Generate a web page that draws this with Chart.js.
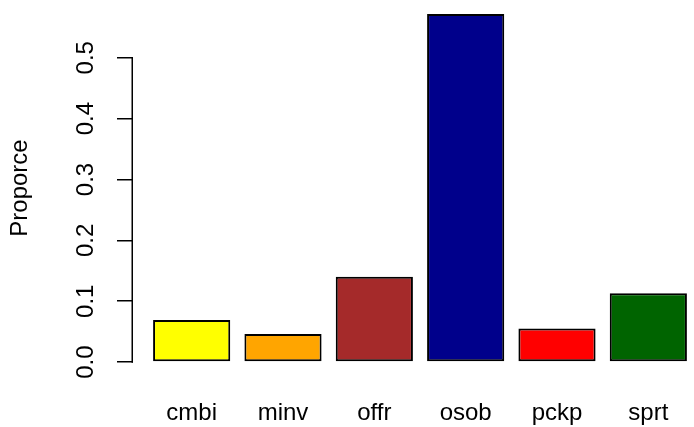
<!DOCTYPE html>
<html><head><meta charset="utf-8">
<script src="https://cdn.jsdelivr.net/npm/chart.js@4"></script>
<style>html,body{margin:0;padding:0;background:#fff}#wrap{width:694px;height:427px}</style>
</head><body><div id="wrap"><canvas id="c" width="694" height="427"></canvas></div>
<script>
const categories = ['cmbi', 'minv', 'offr', 'osob', 'pckp', 'sprt'];
const proportions = [0.069, 0.046, 0.140, 0.572, 0.055, 0.113];
const barColors = ['#FFFF00', '#FFA500', '#A52A2A', '#00008B', '#FF0000', '#006400'];
const yTickValues = [0, 0.1, 0.2, 0.3, 0.4, 0.5];
const yTickLabels = ['0.0', '0.1', '0.2', '0.3', '0.4', '0.5'];
const yTitle = 'Proporce';

const FONT = 'Liberation Sans, Arial, Helvetica, sans-serif';
const dataMax = Math.max(...proportions);
const yMin = -0.04 * dataMax;
const yMax = 1.04 * dataMax;

const axisLinePlugin = {
  id: 'axisLine',
  afterDraw(chart) {
    const s = chart.scales.y;
    const ctx = chart.ctx;
    const x = s.right - 0.75;
    ctx.save();
    ctx.strokeStyle = '#000';
    ctx.lineWidth = 1.5;
    ctx.beginPath();
    ctx.moveTo(x, s.getPixelForValue(yTickValues[0]) + 0.75);
    ctx.lineTo(x, s.getPixelForValue(yTickValues[yTickValues.length - 1]) - 0.75);
    ctx.stroke();
    ctx.restore();
  }
};

new Chart(document.getElementById('c'), {
  type: 'bar',
  data: {
    labels: categories,
    datasets: [{
      data: proportions,
      backgroundColor: barColors,
      borderColor: '#000',
      borderWidth: 2,
      borderSkipped: false,
      barPercentage: 0.845,
      categoryPercentage: 1
    }]
  },
  options: {
    responsive: false,
    animation: false,
    devicePixelRatio: 1,
    layout: { padding: { left: 0, right: -5, top: 0, bottom: 0 } },
    plugins: { legend: { display: false }, tooltip: { enabled: false } },
    scales: {
      x: {
        type: 'category',
        grid: { display: false, drawTicks: false },
        border: { display: false },
        ticks: { color: '#000', font: { family: FONT, size: 24 }, padding: 23, maxRotation: 0, autoSkip: false },
        afterFit(s) { s.height = 51; s.paddingLeft = 0; s.paddingRight = 0; }
      },
      y: {
        type: 'linear',
        position: 'left',
        weight: 1,
        min: yMin,
        max: yMax,
        afterBuildTicks(s) { s.ticks = yTickValues.map(v => ({ value: v })); },
        grid: { display: true, drawOnChartArea: false, drawTicks: true, tickLength: 16, color: '#000', lineWidth: 1.5 },
        border: { display: false },
        ticks: {
          color: '#000',
          font: { family: FONT, size: 24 },
          minRotation: 90, maxRotation: 90,
          crossAlign: 'center',
          padding: 13.6,
          callback: (v, i) => yTickLabels[i]
        },
        title: { display: true, text: yTitle, color: '#000', font: { family: FONT, size: 24 }, padding: { top: 6, bottom: 0 } },
        afterFit(s) { s.width = 133; s.paddingTop = 0; s.paddingBottom = 0; }
      },
      spacer: {
        type: 'linear',
        position: 'left',
        weight: 0,
        display: true,
        grid: { display: false, drawTicks: false },
        border: { display: false },
        ticks: { display: false },
        afterFit(s) { s.width = 13; s.paddingTop = 0; s.paddingBottom = 0; }
      }
    }
  },
  plugins: [axisLinePlugin]
});
</script>
</body></html>
